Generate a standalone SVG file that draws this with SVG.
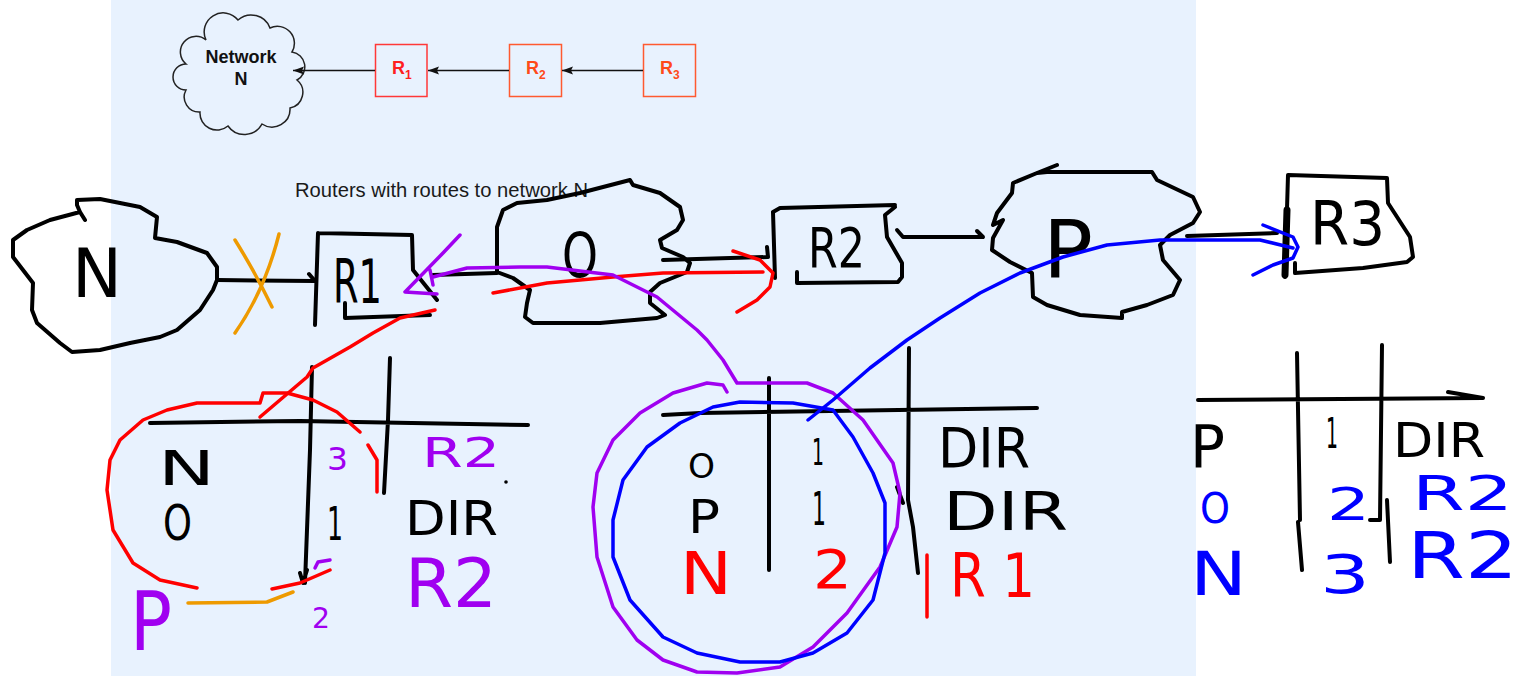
<svg xmlns="http://www.w3.org/2000/svg" width="1529" height="676" viewBox="0 0 1529 676">
<style>
.k{fill:none;stroke:#000;stroke-width:4;stroke-linecap:round;stroke-linejoin:round}
.r{fill:none;stroke:#ff0000;stroke-width:3.5;stroke-linecap:round;stroke-linejoin:round}
.p{fill:none;stroke:#a000f0;stroke-width:3.5;stroke-linecap:round;stroke-linejoin:round}
.b{fill:none;stroke:#0000ff;stroke-width:3.5;stroke-linecap:round;stroke-linejoin:round}
.o{fill:none;stroke:#ee9a00;stroke-width:3.5;stroke-linecap:round;stroke-linejoin:round}
.h{font-family:"DejaVu Sans",sans-serif;}
.hk{fill:#000}.hr{fill:#ff0000}.hp{fill:#a000f0}.hb{fill:#0000ff}
.box1{fill:none;stroke:#ff3838;stroke-width:1.5}
.box2{fill:none;stroke:#ff5a30;stroke-width:1.5}
.lbl{font-family:"Liberation Sans",Arial,sans-serif;font-weight:bold;font-size:18px}
.ln{stroke:#111;stroke-width:1.5;fill:none}
</style>
<defs>
<marker id="ah" markerUnits="userSpaceOnUse" markerWidth="12" markerHeight="10" refX="11" refY="5" orient="auto">
<path d="M0,1 L11,5 L0,9 L2,5 Z" fill="#111"/>
</marker>
</defs>
<rect x="0" y="0" width="1529" height="676" fill="#ffffff"/>
<rect x="111" y="0" width="1085" height="676" fill="#e8f2fe"/>

<g id="top-network-n">
<path d="M206,40 A19,19 0 0 1 238,20 A20,20 0 0 1 270,28 A17,17 0 0 1 292,52 A15,15 0 0 1 297,80 A16,16 0 0 1 290,108 A18,18 0 0 1 262,124 A20,20 0 0 1 228,126 A17,17 0 0 1 200,112 A15,15 0 0 1 186,90 A13,13 0 0 1 186,64 A15,15 0 0 1 206,40 Z" fill="#e8f2fe" stroke="#222" stroke-width="1.5"/>
<text x="241" y="63" class="lbl" text-anchor="middle" fill="#111">Network</text>
<text x="241" y="85" class="lbl" text-anchor="middle" fill="#111">N</text>
</g>
<g id="top-r1">
<rect x="375.5" y="44.5" width="51.5" height="52" class="box1"/>
<text x="392" y="74" class="lbl" fill="#ff2020">R<tspan font-size="12" dy="5">1</tspan></text>
</g>
<g id="top-r2">
<rect x="509.5" y="44.5" width="52" height="52" class="box2"/>
<text x="526" y="74" class="lbl" fill="#ff4a1a">R<tspan font-size="12" dy="5">2</tspan></text>
</g>
<g id="top-r3">
<rect x="643.5" y="44.5" width="52" height="52" class="box2"/>
<text x="660" y="74" class="lbl" fill="#ff4a1a">R<tspan font-size="12" dy="5">3</tspan></text>
</g>
<g id="caption">
<text x="295" y="197" font-family="Liberation Sans, Arial, sans-serif" font-size="20" fill="#1a1a1a" textLength="293" lengthAdjust="spacingAndGlyphs">Routers with routes to network N</text>
</g>

<g id="hand-cloud-n">
<path class="k" d="M85,220 L80,212 L77,205 L77,200 L100,199 L140,207 L157,217 L155,238 L177,242 L207,253 L217,267 L217,280 L213,290 L200,310 L177,330 L160,337 L130,343 L100,350 L72,352 L60,343 L37,323 L32,310 L33,283 L13,257 L13,240 L27,230 L50,220 L80,212"/>
<text x="72" y="297" class="h hk" font-size="67" textLength="50" lengthAdjust="spacingAndGlyphs">N</text>
</g>
<g id="hand-r1">
<path class="k" d="M318,233 L315,325 M318,233 L412,235 L413,270 L437,300 M345,303 L345,318 L430,315"/>
<text x="333" y="303" class="h hk" font-size="60" textLength="49" lengthAdjust="spacingAndGlyphs">R1</text>
</g>
<g id="hand-cloud-o">
<path class="k" d="M630,180 L633,185 L660,193 L680,207 L683,220 L677,230 L660,240 L662,248 L683,257 L690,263 L687,272 L660,283 L650,292 L650,303 L665,315 L657,318 L600,323 L533,323 L525,317 L527,303 L530,290 L513,278 L497,272 L497,227 L503,210 L517,203 L547,200 L580,193 Z"/>
<text x="562" y="277" class="h hk" font-size="62" textLength="36" lengthAdjust="spacingAndGlyphs">O</text>
</g>
<g id="hand-r2">
<path class="k" d="M773,212 L775,278 M773,212 L780,208 L895,205 M895,207 L885,215 L887,237 L902,263 L902,277 L898,282 L797,283 L797,272"/>
<text x="808" y="267" class="h hk" font-size="55" textLength="57" lengthAdjust="spacingAndGlyphs">R2</text>
</g>
<g id="hand-cloud-p">
<path class="k" d="M1057,165 L1037,173 L1013,183 L1012,193 L997,213 L993,225 L1003,220 L993,238 L992,250 L1010,262 L1032,273 L1033,297 L1047,305 L1080,315 L1122,318 L1122,312 L1147,305 L1173,295 L1180,280 L1163,260 L1160,245 L1170,235 L1193,223 L1200,212 L1193,197 L1157,180 L1152,172 L1047,172 L1037,173"/>
<text x="1043" y="278" class="h hk" font-size="80" textLength="50" lengthAdjust="spacingAndGlyphs">P</text>
</g>
<g id="hand-r3">
<path class="k" d="M1288,175 L1285,277 M1288,175 L1387,178 L1388,203 L1410,237 L1413,257 L1407,262 L1363,268 L1295,273 L1295,263"/>
<path d="M1287,210 L1285,275" stroke="#000" stroke-width="7" stroke-linecap="round"/>
<text x="1310" y="245" class="h hk" font-size="60" textLength="75" lengthAdjust="spacingAndGlyphs">R3</text>
</g>

<g id="connectors">
<path class="ln" d="M643,70.5 L562,70.5" marker-end="url(#ah)"/>
<path class="ln" d="M509,70.5 L428,70.5" marker-end="url(#ah)"/>
<path class="ln" d="M375,70.5 L293,70.5" marker-end="url(#ah)"/>
<path class="k" d="M217,280 L315,281 M309,274 L315,281"/>
<path class="k" d="M433,275 L497,273"/>
<path class="k" d="M663,260 L768,257 M767,247 L768,257"/>
<path class="k" d="M897,230 L903,237 L983,237 M977,231 L983,237"/>
<path class="k" d="M1187,236 L1277,233"/>
</g>

<g id="table-r1">
<path class="k" d="M150,423 L300,421 L528,425 M312,367 L310,450 L305,583 M300,573 L303,583 L307,570 M390,358 L388,420 L384,493"/>
<text x="158" y="485" class="h hk" font-size="48" textLength="57" lengthAdjust="spacingAndGlyphs">N</text>
<text x="163" y="540" class="h hk" font-size="50" textLength="29" lengthAdjust="spacingAndGlyphs">O</text>
<text x="327" y="470" class="h hp" font-size="32" textLength="21" lengthAdjust="spacingAndGlyphs">3</text>
<text x="422" y="467" class="h hp" font-size="40" textLength="78" lengthAdjust="spacingAndGlyphs">R2</text>
<circle cx="506" cy="482" r="1.8" fill="#000"/>
<text x="327" y="540" class="h hk" font-size="46" textLength="16" lengthAdjust="spacingAndGlyphs">1</text>
<text x="405" y="535" class="h hk" font-size="48" textLength="93" lengthAdjust="spacingAndGlyphs">DIR</text>
<text x="405" y="607" class="h hp" font-size="68" textLength="92" lengthAdjust="spacingAndGlyphs">R2</text>
<text x="130" y="650" class="h hp" font-size="82" textLength="42" lengthAdjust="spacingAndGlyphs">P</text>
<text x="312" y="628" class="h hp" font-size="29" textLength="18" lengthAdjust="spacingAndGlyphs">2</text>
</g>
<g id="table-o">
<path class="k" d="M663,415 L700,413 L1037,408 M769,378 L769,570 M909,348 L908,500 L913,527 L918,573 M897,487 L903,503"/>
<text x="688" y="478" class="h hk" font-size="34" textLength="27" lengthAdjust="spacingAndGlyphs">O</text>
<text x="688" y="533" class="h hk" font-size="46" textLength="32" lengthAdjust="spacingAndGlyphs">P</text>
<text x="680" y="594" class="h hr" font-size="58" textLength="52" lengthAdjust="spacingAndGlyphs">N</text>
<text x="812" y="465" class="h hk" font-size="37" textLength="12" lengthAdjust="spacingAndGlyphs">1</text>
<text x="812" y="525" class="h hk" font-size="46" textLength="14" lengthAdjust="spacingAndGlyphs">1</text>
<text x="813" y="588" class="h hr" font-size="54" textLength="39" lengthAdjust="spacingAndGlyphs">2</text>
<text x="938" y="467" class="h hk" font-size="56" textLength="92" lengthAdjust="spacingAndGlyphs">DIR</text>
<text x="943" y="530" class="h hk" font-size="54" textLength="125" lengthAdjust="spacingAndGlyphs">DIR</text>
<text x="950" y="597" class="h hr" font-size="60" textLength="85" lengthAdjust="spacingAndGlyphs">R 1</text>
</g>
<g id="table-r3">
<path class="k" d="M1198,400 L1483,398 M1448,392 L1483,398 M1297,353 L1300,520 M1298,522 L1302,570 M1382,345 L1380,520 L1370,520 M1387,500 L1390,562"/>
<text x="1190" y="467" class="h hk" font-size="58" textLength="35" lengthAdjust="spacingAndGlyphs">P</text>
<text x="1326" y="448" class="h hk" font-size="42" textLength="12" lengthAdjust="spacingAndGlyphs">1</text>
<text x="1393" y="457" class="h hk" font-size="48" textLength="92" lengthAdjust="spacingAndGlyphs">DIR</text>
<text x="1200" y="523" class="h hb" font-size="42" textLength="30" lengthAdjust="spacingAndGlyphs">O</text>
<text x="1327" y="520" class="h hb" font-size="45" textLength="43" lengthAdjust="spacingAndGlyphs">2</text>
<text x="1412" y="510" class="h hb" font-size="48" textLength="101" lengthAdjust="spacingAndGlyphs">R2</text>
<text x="1190" y="595" class="h hb" font-size="60" textLength="57" lengthAdjust="spacingAndGlyphs">N</text>
<text x="1320" y="593" class="h hb" font-size="54" textLength="50" lengthAdjust="spacingAndGlyphs">3</text>
<text x="1407" y="578" class="h hb" font-size="64" textLength="111" lengthAdjust="spacingAndGlyphs">R2</text>
</g>

<g id="annotations">
<path class="o" d="M235,240 Q255,272 272,307 M279,234 Q265,290 235,333"/>
<path class="o" d="M188,603 L267,602 L293,592"/>
<path class="r" d="M493,293 L547,283 L613,277 L663,273 L763,272 M733,251 L760,260 L773,273 L770,287 L757,300 L737,312"/>
<path class="r" d="M435,310 L400,318 L373,333 L350,347 L313,368 L307,377 L260,417"/>
<path class="r" d="M197,588 L160,580 L133,563 L113,530 L107,490 L110,460 L120,440 L143,420 L167,410 L197,403 L260,403 L263,393 L287,393 L313,400 L337,412 L360,432"/>
<path class="r" d="M368,445 L377,460 L377,492 M272,589 L300,583 L330,570 M927,555 L927,617"/>
<path class="p" d="M460,235 L443,253 L405,292 L437,294 M430,270 L433,285"/>
<path class="p" d="M433,277 L467,268 L520,267 L547,267 L613,275 L657,297 L697,330 L707,340 L723,360 L737,383 L807,383 L833,393 L863,420 L893,463 L900,493 L897,527 L880,567 L847,613 L813,647 L780,667 L737,673 L697,672 L663,660 L637,640 L613,607 L597,557 L593,507 L597,473 L613,440 L640,413 L673,393 L707,383 L723,385 L727,392"/>
<path class="p" d="M315,568 L318,562 L330,560"/>
<path class="b" d="M740,402 L793,403 L833,410 L853,437 L873,473 L885,503 L885,553 L873,600 L847,633 L813,653 L780,662 L740,662 L697,653 L663,637 L630,600 L613,557 L613,520 L623,480 L647,447 L680,423 L713,407 Z"/>
<path class="b" d="M808,420 L833,400 L870,368 L907,340 L940,318 L980,293 L1020,273 L1063,257 L1107,245 L1160,240 L1260,240 L1293,248 M1263,225 L1293,237 L1298,247 L1293,258 L1273,265 L1253,275"/>
</g>
</svg>
